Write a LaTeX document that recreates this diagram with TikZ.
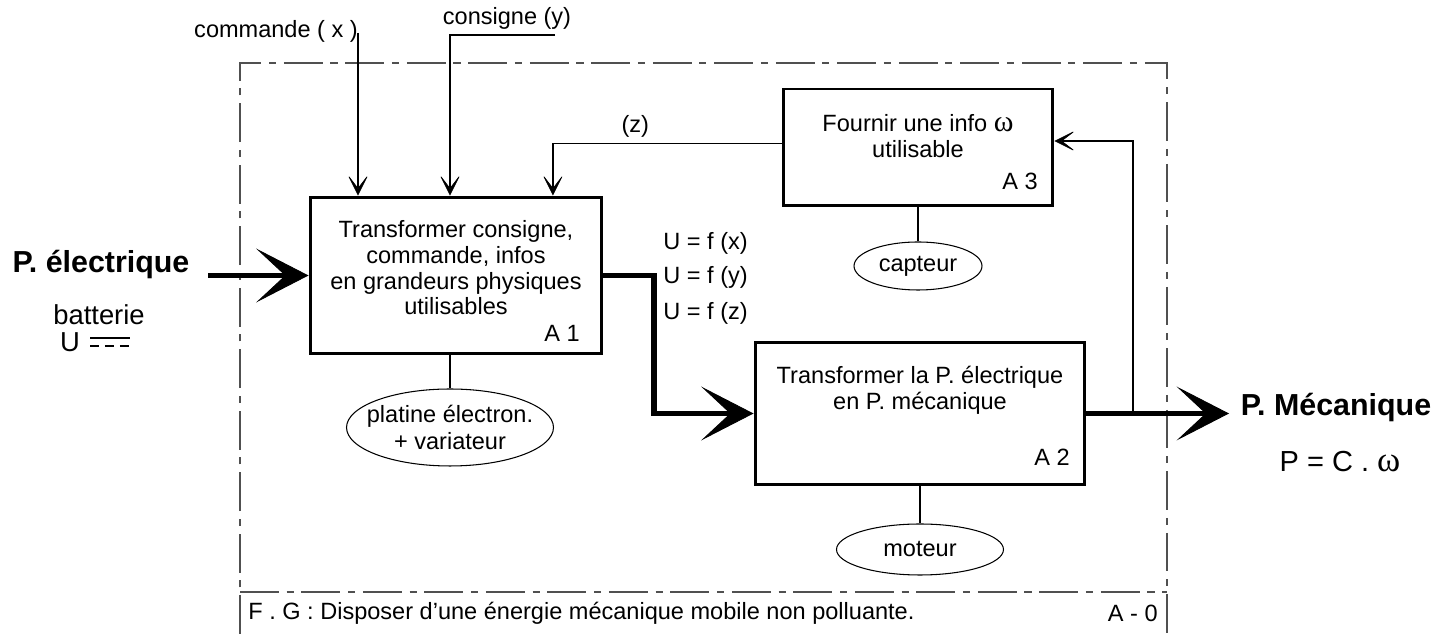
\documentclass[tikz,border=0pt]{standalone}
\usepackage{fontspec}
\setmainfont{Liberation Sans}
\newfontfamily\greekfont{Liberation Serif}
\usepackage{tikz}
\usepackage{xcolor}
\usetikzlibrary{shapes.geometric, arrows.meta, positioning}
\definecolor{cFrame}{RGB}{80,80,80}
\newcommand{\omg}{{\greekfont\fontsize{17}{18}\selectfont ω}}
\tikzset{
	funcbox/.style={rectangle, draw=black, line width=1.7pt, inner sep=0pt},
	boxtext/.style={align=center, inner sep=0pt},
	support/.style={ellipse, draw=black, line width=0.6pt, inner sep=0pt, align=center},
	lbl/.style={inner sep=0pt},
	bigtext/.style={inner sep=0pt, font=\fontsize{17.3}{20}\selectfont\bfseries},
	thinline/.style={line width=0.6pt},
	thinarrow/.style={line width=0.6pt, -{Stealth[length=4.4mm, width=4.4mm, inset=2.9mm, line width=0.4pt]}},
	powerline/.style={line width=3.4pt, -{Stealth[length=10.5mm, width=10.8mm, inset=5.8mm, line width=0.5pt]}},
	% cadre mixte du A-0
	frameline/.style={draw=cFrame, line width=0.6pt, dash pattern=on 22pt off 4.5pt on 4pt off 4.5pt},
}
\begin{document}
\begin{tikzpicture}[x=0.02cm, y=-0.02cm,
					font=\fontsize{13.4}{14.6}\selectfont, node distance=0.66cm]
					\useasboundingbox (0,0) rectangle (1453,634);
					\draw[frameline] (240,634) -- (240,63) -- (1167,63) -- (1167,634);
					\draw[frameline] (240,592) -- (1167,592);
					\node[lbl, anchor=west] (fg) at (248,613) {F . G : Disposer d'une énergie mécanique mobile non polluante.};
					\node[lbl, anchor=east] (a0) at (1158,613) {A - 0};
					\node[funcbox, minimum width=5.84cm, minimum height=3.14cm] (A1) at (456,275.5) {};
					\node[boxtext] (t1) at (456,268) {Transformer consigne,\\commande, infos\\en grandeurs physiques\\utilisables};
					\node[lbl, anchor=base east] (n1) at (580,342) {A 1};
					\node[funcbox, minimum width=6.6cm, minimum height=2.86cm] (A2) at (920,413.5) {};
					\node[boxtext] (t2) at (920,390) {Transformer la P. électrique\\en P. mécanique};
					\node[lbl, anchor=base east] (n2) at (1070,465) {A 2};
					\node[funcbox, minimum width=5.4cm, minimum height=2.34cm] (A3) at (918,147.5) {};
					\node[boxtext] (t3) at (918,136) {Fournir une info \omg\\utilisable};
					\node[lbl, anchor=base east] (n3) at (1038,190) {A 3};
					\node[support, below=0.66cm of A1, xshift=-0.12cm, inner xsep=-7.5pt, font=\fontsize{13.4}{15.4}\selectfont, minimum width=4.14cm, minimum height=1.54cm] (plat) {platine électron.\\+ variateur};
					\node[support, below=0.68cm of A3, minimum width=2.56cm, minimum height=0.96cm] (capt) {capteur};
					\node[support, below=0.74cm of A2, minimum width=3.34cm, minimum height=1.02cm] (mot) {moteur};
					\draw[thinline] (A1.south -| plat.north) -- (plat.north);
					\draw[thinline] (A3.south -| capt.north) -- (capt.north);
					\draw[thinline] (A2.south -| mot.north) -- (mot.north);
					\node[lbl] (cmdtxt) at (276,31) {commande ( x )};
					\coordinate (cmd) at (358,33);
					\draw[thinarrow] (cmd) -- (cmd |- A1.north);
					\node[lbl] (constxt) at (507,18) {consigne (y)};
					\coordinate (cons) at (555,35);
					\draw[thinarrow] (cons) -| ([xshift=-0.12cm]A1.north);
					\draw[thinarrow] ([yshift=0.08cm]A3.west) -| node[pos=0.32, above=3pt, lbl] (ztxt) {(z)} ([xshift=1.94cm]A1.north);
					\coordinate (pin) at (208,275.5);
					\draw[powerline] (pin) -- (A1.west);
					\draw[powerline] (A1.east) -- ++(51,0) |- (A2.west);
					\coordinate (pout) at (1229,413.5);
					\draw[powerline] (A2.east) -- (pout);
					\coordinate (br) at (1133,413.5);
					\draw[thinarrow] (br) |- ([yshift=0.13cm]A3.east);
					\node[lbl, anchor=west] (ux) at (663,243) {U = f (x)};
					\node[lbl, anchor=west] (uy) at (663,277) {U = f (y)};
					\node[lbl, anchor=west] (uz) at (663,313) {U = f (z)};
					\node[bigtext] (pel) at (101,265) {P. électrique};
					\node[lbl, font=\fontsize{15.6}{18}\selectfont] (batt) at (99,315) {batterie};
					\node[lbl, font=\fontsize{15.6}{18}\selectfont] (uu) at (70,342) {U};
					\draw[line width=0.8pt] (90,338) -- (130,338);
					\draw[line width=0.8pt, dash pattern=on 5.1pt off 3.4pt] (90,346) -- (130,346);
					\node[bigtext] (pmec) at (1336,408) {P. Mécanique};
					\node[lbl, font=\fontsize{16.5}{18}\selectfont] (pcw) at (1340,462) {P = C . {\greekfont\fontsize{20}{20}\selectfont ω}};
				\end{tikzpicture}
\end{document}
